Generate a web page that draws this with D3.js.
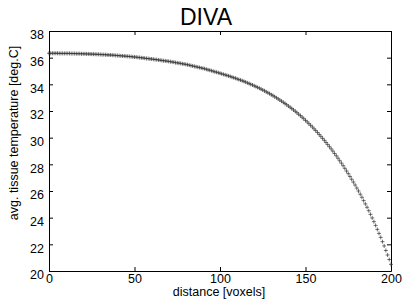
<!DOCTYPE html>
<html>
<head>
<meta charset="utf-8">
<script src="https://cdn.jsdelivr.net/npm/d3@7"></script>
<style>
  body { margin: 0; background: #fff; }
  text { font-family: "Liberation Sans", Arial, sans-serif; fill: #000; }
</style>
</head>
<body>
<div id="chart"></div>
<script>
// Temperature, one value per voxel (0..200)
const temperature = [
  36.33,36.33,36.33,36.33,36.33,36.33,36.32,36.32,36.32,36.32,
  36.32,36.32,36.32,36.31,36.31,36.31,36.30,36.30,36.30,36.29,
  36.29,36.29,36.28,36.28,36.27,36.27,36.26,36.26,36.25,36.25,
  36.24,36.23,36.23,36.22,36.21,36.20,36.20,36.19,36.18,36.17,
  36.16,36.15,36.14,36.13,36.12,36.11,36.10,36.09,36.08,36.06,
  36.05,36.04,36.02,36.01,35.99,35.98,35.96,35.94,35.93,35.91,
  35.90,35.88,35.86,35.85,35.83,35.81,35.79,35.77,35.76,35.74,
  35.72,35.70,35.68,35.66,35.63,35.61,35.59,35.57,35.54,35.52,
  35.50,35.47,35.44,35.41,35.38,35.35,35.32,35.29,35.26,35.23,
  35.20,35.17,35.13,35.09,35.06,35.02,34.98,34.94,34.91,34.87,
  34.83,34.79,34.75,34.71,34.67,34.63,34.59,34.54,34.50,34.46,
  34.41,34.36,34.32,34.27,34.22,34.17,34.11,34.06,34.00,33.95,
  33.89,33.83,33.77,33.71,33.64,33.58,33.51,33.44,33.37,33.30,
  33.22,33.15,33.07,32.99,32.91,32.82,32.74,32.65,32.56,32.47,
  32.37,32.28,32.18,32.08,31.98,31.87,31.76,31.65,31.54,31.42,
  31.30,31.18,31.05,30.93,30.80,30.66,30.53,30.39,30.24,30.10,
  29.95,29.80,29.64,29.48,29.32,29.16,28.99,28.81,28.64,28.46,
  28.27,28.09,27.90,27.70,27.50,27.30,27.09,26.88,26.67,26.45,
  26.22,26.00,25.76,25.53,25.28,25.03,24.78,24.52,24.25,23.98,
  23.70,23.42,23.12,22.82,22.52,22.20,21.88,21.54,21.20,20.86,
  20.50
];
const distance = temperature.map((d, i) => i);

const xTicks = [0, 50, 100, 150, 200];
const yTicks = [20, 22, 24, 26, 28, 30, 32, 34, 36, 38];

const titleText = "DIVA";
const xLabel = "distance [voxels]";
const yLabel = "avg. tissue temperature [deg.C]";

const W = 403, H = 306;
const margin = {top: 31, right: 12, bottom: 35, left: 49};

const svg = d3.select("#chart").append("svg")
    .attr("width", W)
    .attr("height", H);

const x = d3.scaleLinear().domain([0, 200]).range([margin.left, W - margin.right]);
const y = d3.scaleLinear().domain([20, 38]).range([H - margin.bottom, margin.top]);

// axes, ticks pointing inward like MATLAB
const tickLen = 4;
svg.append("g")
    .attr("transform", "translate(0," + (H - margin.bottom) + ")")
    .call(d3.axisBottom(x).tickValues(xTicks).tickSizeInner(-tickLen).tickSizeOuter(0).tickPadding(4))
    .call(g => g.selectAll("text").attr("font-size", "12.5px").attr("dy", "0.6em"));

svg.append("g")
    .attr("transform", "translate(0," + margin.top + ")")
    .call(d3.axisTop(x).tickValues(xTicks).tickSizeInner(-tickLen).tickSizeOuter(0).tickFormat(""));

svg.append("g")
    .attr("transform", "translate(" + margin.left + ",0)")
    .call(d3.axisLeft(y).tickValues(yTicks).tickSizeInner(-tickLen).tickSizeOuter(0).tickPadding(5))
    .call(g => g.selectAll("text").attr("font-size", "12.5px").attr("dy", "0.62em"));

svg.append("g")
    .attr("transform", "translate(" + (W - margin.right) + ",0)")
    .call(d3.axisRight(y).tickValues(yTicks).tickSizeInner(-tickLen).tickSizeOuter(0).tickFormat(""));

svg.selectAll(".domain").attr("stroke", "#000");
svg.selectAll(".tick line").attr("stroke", "#000");

// markers
svg.append("g")
    .selectAll("path")
    .data(temperature)
    .enter().append("path")
      .attr("transform", (d, i) => "translate(" + x(distance[i]) + "," + y(d) + ")")
      .attr("d", "M-2,0H2M0,-2V2")
      .attr("stroke", "#333")
      .attr("stroke-width", 0.7)
      .attr("fill", "none");

// title and labels
svg.append("text")
    .attr("x", 206)
    .attr("y", 25)
    .attr("text-anchor", "middle")
    .attr("font-size", "23px")
    .text(titleText);

svg.append("text")
    .attr("x", 219)
    .attr("y", 296)
    .attr("text-anchor", "middle")
    .attr("font-size", "12.5px")
    .text(xLabel);

svg.append("text")
    .attr("transform", "translate(18,133) rotate(-90)")
    .attr("text-anchor", "middle")
    .attr("font-size", "12.5px")
    .text(yLabel);
</script>
</body>
</html>
